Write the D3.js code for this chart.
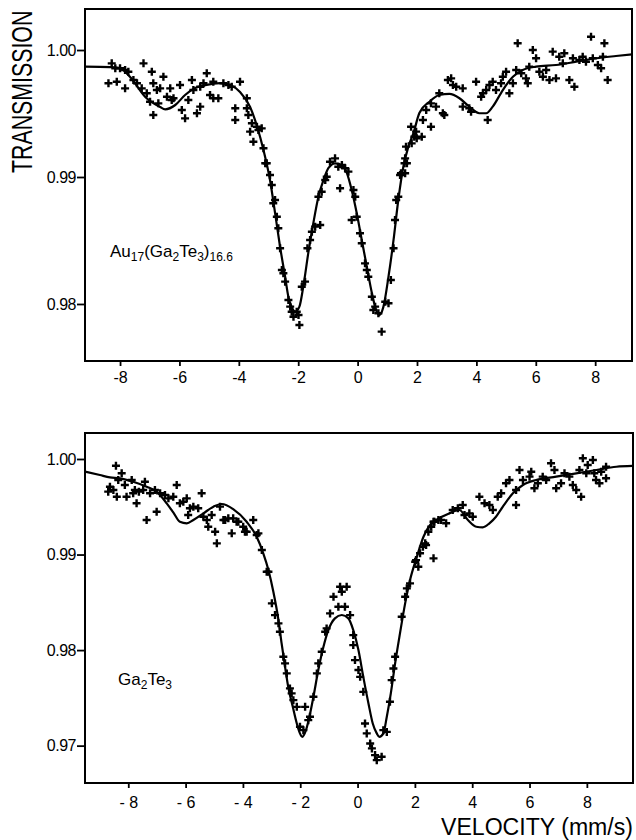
<!DOCTYPE html>
<html>
<head>
<meta charset="utf-8">
<script src="https://cdn.jsdelivr.net/npm/d3@7"></script>
<style>
  body { margin: 0; background: #fff; }
  svg text { font-family: "Liberation Sans", Arial, sans-serif; fill: #000; }
</style>
</head>
<body>
<svg id="canvas"></svg>
<script>
// velocity ticks
let velocityTicks = [-8, -6, -4, -2, 0, 2, 4, 6, 8];
let topTransTicks = [0.98, 0.99, 1.00];
let bottomTransTicks = [0.97, 0.98, 0.99, 1.00];

// Au17(Ga2Te3)16.6 : fitted curve [velocity, transmission]
let topFit = [
  [-9.18, 0.99869], [-8.33, 0.99866], [-8.00, 0.99858], [-7.66, 0.99787], [-7.15, 0.99630],
  [-6.65, 0.99551], [-6.48, 0.99533], [-6.14, 0.99567], [-5.81, 0.99646], [-5.47, 0.99701],
  [-5.13, 0.99724], [-4.63, 0.99740], [-4.29, 0.99724], [-3.96, 0.99669], [-3.62, 0.99551],
  [-3.38, 0.99394], [-3.17, 0.99213], [-2.95, 0.98976], [-2.78, 0.98717], [-2.61, 0.98449],
  [-2.44, 0.98213], [-2.33, 0.98055], [-2.22, 0.97976], [-2.10, 0.97939], [-1.96, 0.97979],
  [-1.83, 0.98136], [-1.66, 0.98402], [-1.49, 0.98638], [-1.32, 0.98845], [-1.15, 0.98976],
  [-0.98, 0.99071], [-0.76, 0.99108], [-0.53, 0.99094], [-0.36, 0.99031], [-0.20, 0.98898],
  [-0.03, 0.98717], [0.14, 0.98504], [0.31, 0.98294], [0.48, 0.98087], [0.62, 0.97953],
  [0.73, 0.97913], [0.87, 0.97979], [1.04, 0.98215], [1.21, 0.98504], [1.37, 0.98819],
  [1.54, 0.99081], [1.71, 0.99239], [1.88, 0.99346], [2.08, 0.99504], [2.42, 0.99593],
  [2.75, 0.99646], [3.09, 0.99654], [3.43, 0.99620], [3.76, 0.99554], [4.10, 0.99502],
  [4.33, 0.99502], [4.55, 0.99554], [4.89, 0.99685], [5.23, 0.99790], [5.56, 0.99843],
  [6.01, 0.99869], [6.68, 0.99882], [7.36, 0.99908], [8.03, 0.99935], [8.70, 0.99953],
  [9.24, 0.99966]
];

// Au17(Ga2Te3)16.6 : measured points
let topPoints = [
  [-8.28, 0.99895], [-8.39, 0.99738], [-8.11, 0.99750], [-8.16, 0.99856], [-8.00, 0.99856],
  [-7.83, 0.99843], [-7.72, 0.99829], [-7.83, 0.99698], [-7.55, 0.99764], [-7.43, 0.99738],
  [-7.21, 0.99895], [-7.27, 0.99698], [-7.10, 0.99659], [-6.88, 0.99738], [-6.93, 0.99829],
  [-6.54, 0.99790], [-6.65, 0.99698], [-6.76, 0.99685], [-6.99, 0.99593], [-6.88, 0.99488],
  [-6.71, 0.99580], [-6.42, 0.99632], [-6.31, 0.99698], [-6.20, 0.99620], [-6.26, 0.99606],
  [-5.98, 0.99724], [-5.92, 0.99528], [-5.81, 0.99462], [-5.70, 0.99606], [-5.58, 0.99764],
  [-5.41, 0.99502], [-5.30, 0.99554], [-5.53, 0.99685], [-5.30, 0.99711], [-5.08, 0.99817],
  [-5.19, 0.99738], [-4.97, 0.99646], [-4.86, 0.99620], [-4.69, 0.99620], [-4.86, 0.99750],
  [-4.52, 0.99738], [-4.35, 0.99724], [-4.24, 0.99711], [-3.96, 0.99750], [-4.12, 0.99541],
  [-4.12, 0.99449], [-3.73, 0.99620], [-3.73, 0.99541], [-3.68, 0.99488], [-3.56, 0.99423],
  [-3.39, 0.99396], [-3.23, 0.99383], [-3.62, 0.99357], [-3.51, 0.99278], [-3.11, 0.99108],
  [-2.95, 0.99016], [-2.89, 0.98937], [-2.78, 0.98819], [-2.72, 0.98687], [-3.34, 0.99370],
  [-3.17, 0.99226], [-3.06, 0.99108], [-2.84, 0.98793], [-2.67, 0.98596], [-2.61, 0.98439],
  [-2.55, 0.98268], [-2.50, 0.98242], [-2.44, 0.98176], [-2.33, 0.98031], [-2.27, 0.97979],
  [-2.22, 0.97939], [-2.16, 0.97900], [-2.05, 0.97939], [-1.99, 0.97913], [-1.96, 0.97835],
  [-1.88, 0.98136], [-1.77, 0.98176], [-1.69, 0.98439], [-1.60, 0.98504], [-1.54, 0.98569],
  [-1.43, 0.98609], [-1.26, 0.98622], [-1.32, 0.98845], [-1.21, 0.98884], [-1.09, 0.98976],
  [-1.04, 0.99002], [-0.93, 0.99120], [-0.76, 0.99147], [-0.65, 0.99081], [-0.53, 0.99094],
  [-0.42, 0.99069], [-0.31, 0.99042], [-0.59, 0.98911], [-0.14, 0.98898], [-0.08, 0.98845],
  [-0.20, 0.98661], [-0.03, 0.98687], [0.08, 0.98557], [0.14, 0.98478], [0.25, 0.98320],
  [0.31, 0.98268], [0.36, 0.98215], [0.48, 0.98057], [0.59, 0.97979], [0.53, 0.97953],
  [0.70, 0.97927], [0.81, 0.97782], [0.93, 0.98018], [1.04, 0.98006], [1.12, 0.98189],
  [1.21, 0.98439], [1.26, 0.98661], [1.37, 0.98845], [1.43, 0.99016], [1.60, 0.99029],
  [1.66, 0.99108], [1.60, 0.99147], [1.82, 0.99265], [1.99, 0.99305], [2.16, 0.99317],
  [1.30, 0.98819], [1.46, 0.99029], [1.58, 0.99108], [1.63, 0.99239], [1.80, 0.99396],
  [1.97, 0.99357], [1.91, 0.99317], [2.20, 0.99449], [2.47, 0.99396], [2.31, 0.99528],
  [2.47, 0.99580], [2.64, 0.99554], [2.87, 0.99502], [2.92, 0.99488], [2.75, 0.99659],
  [3.04, 0.99764], [3.15, 0.99777], [3.21, 0.99724], [3.32, 0.99711], [3.54, 0.99698],
  [3.54, 0.99554], [3.76, 0.99541], [3.82, 0.99514], [3.99, 0.99750], [4.16, 0.99632],
  [4.22, 0.99659], [4.38, 0.99449], [4.33, 0.99685], [4.44, 0.99724], [4.55, 0.99750],
  [4.66, 0.99685], [4.83, 0.99738], [4.89, 0.99790], [5.00, 0.99829], [5.11, 0.99659],
  [5.23, 0.99738], [5.34, 0.99843], [5.39, 1.00053], [5.51, 0.99817], [5.67, 0.99777],
  [5.73, 0.99738], [5.78, 0.99869], [5.90, 1.00000], [6.01, 0.99935], [6.12, 0.99829],
  [6.24, 0.99790], [6.35, 0.99843], [6.46, 0.99764], [6.57, 0.99987], [6.68, 0.99777],
  [6.79, 0.99947], [6.96, 0.99974], [6.91, 0.99895], [7.13, 0.99764], [7.30, 0.99711],
  [7.25, 0.99935], [7.47, 0.99921], [7.58, 0.99947], [7.69, 0.99908], [7.86, 1.00105],
  [7.92, 0.99935], [8.09, 0.99882], [8.20, 0.99856], [8.26, 0.99947], [8.31, 1.00053],
  [8.42, 0.99764]
];

// Ga2Te3 : fitted curve
let bottomFit = [
  [-9.49, 0.99867], [-8.99, 0.99832], [-8.64, 0.99808], [-8.29, 0.99798], [-7.83, 0.99762],
  [-7.36, 0.99710], [-7.01, 0.99658], [-6.66, 0.99536], [-6.43, 0.99441], [-6.20, 0.99343],
  [-5.96, 0.99327], [-5.73, 0.99361], [-5.38, 0.99431], [-5.03, 0.99501], [-4.74, 0.99529],
  [-4.34, 0.99476], [-3.87, 0.99343], [-3.52, 0.99186], [-3.29, 0.99013], [-3.11, 0.98838],
  [-2.94, 0.98613], [-2.76, 0.98314], [-2.65, 0.98070], [-2.53, 0.97825], [-2.42, 0.97616],
  [-2.26, 0.97407], [-2.12, 0.97232], [-2.01, 0.97128], [-1.93, 0.97092], [-1.80, 0.97162],
  [-1.68, 0.97302], [-1.54, 0.97511], [-1.37, 0.97791], [-1.19, 0.98035], [-1.02, 0.98209],
  [-0.79, 0.98332], [-0.55, 0.98367], [-0.32, 0.98332], [-0.15, 0.98209], [0.03, 0.98000],
  [0.20, 0.97720], [0.38, 0.97442], [0.53, 0.97232], [0.67, 0.97128], [0.76, 0.97092],
  [0.90, 0.97128], [1.02, 0.97302], [1.16, 0.97547], [1.31, 0.97861], [1.48, 0.98175],
  [1.66, 0.98489], [1.83, 0.98733], [2.07, 0.98977], [2.30, 0.99186], [2.53, 0.99309],
  [2.74, 0.99361], [3.20, 0.99431], [3.55, 0.99466], [3.85, 0.99361], [4.14, 0.99291],
  [4.37, 0.99285], [4.60, 0.99327], [4.83, 0.99396], [5.07, 0.99501], [5.42, 0.99641],
  [5.77, 0.99728], [6.23, 0.99780], [6.93, 0.99815], [7.63, 0.99850], [8.33, 0.99885],
  [9.03, 0.99919], [9.59, 0.99927]
];

// Ga2Te3 : measured points
let bottomPoints = [
  [-8.43, 0.99930], [-8.64, 0.99710], [-8.70, 0.99658], [-8.52, 0.99675], [-8.35, 0.99780],
  [-8.23, 0.99850], [-8.12, 0.99728], [-8.40, 0.99605], [-8.06, 0.99605], [-7.88, 0.99780],
  [-7.83, 0.99641], [-7.71, 0.99536], [-7.77, 0.99675], [-7.63, 0.99658], [-7.42, 0.99762],
  [-7.48, 0.99675], [-7.36, 0.99361], [-7.24, 0.99641], [-7.07, 0.99675], [-7.01, 0.99448],
  [-6.89, 0.99641], [-6.72, 0.99623], [-6.60, 0.99588], [-6.43, 0.99605], [-6.31, 0.99728],
  [-6.20, 0.99536], [-6.08, 0.99553], [-5.96, 0.99588], [-5.85, 0.99484], [-5.91, 0.99414],
  [-5.73, 0.99501], [-5.56, 0.99484], [-5.44, 0.99641], [-5.38, 0.99396], [-5.26, 0.99361],
  [-5.21, 0.99291], [-4.97, 0.99239], [-4.91, 0.99117], [-5.09, 0.99414], [-4.80, 0.99501],
  [-4.68, 0.99361], [-4.51, 0.99379], [-4.39, 0.99222], [-4.34, 0.99379], [-4.16, 0.99343],
  [-3.99, 0.99291], [-3.87, 0.99239], [-3.64, 0.99361], [-3.52, 0.99204], [-3.34, 0.99047],
  [-3.17, 0.98820], [-4.62, 0.99361], [-4.22, 0.99343], [-3.93, 0.99239], [-3.46, 0.99222],
  [-3.11, 0.98820], [-2.99, 0.98489], [-2.88, 0.98366], [-2.76, 0.98280], [-2.71, 0.98192],
  [-2.59, 0.97930], [-2.53, 0.97861], [-2.47, 0.97756], [-2.36, 0.97599], [-2.30, 0.97547],
  [-2.24, 0.97476], [-2.12, 0.97406], [-1.83, 0.97406], [-2.01, 0.97197], [-1.89, 0.97162],
  [-1.72, 0.97267], [-1.66, 0.97302], [-1.54, 0.97511], [-1.42, 0.97756], [-1.37, 0.97861],
  [-1.25, 0.97982], [-1.13, 0.98192], [-1.08, 0.98227], [-0.96, 0.98384], [-0.84, 0.98558],
  [-0.67, 0.98453], [-0.44, 0.98453], [-0.55, 0.98610], [-0.61, 0.98663], [-0.38, 0.98663],
  [-0.26, 0.98366], [-0.15, 0.98157], [-0.15, 0.98052], [-0.09, 0.97895], [0.03, 0.97791],
  [0.09, 0.97720], [0.20, 0.97563], [0.26, 0.97232], [0.32, 0.97128], [0.44, 0.97023],
  [0.50, 0.96971], [0.61, 0.96901], [0.67, 0.96848], [0.84, 0.96883], [0.90, 0.97162],
  [1.02, 0.97144], [1.13, 0.97459], [1.19, 0.97686], [1.25, 0.97808], [1.31, 0.97930],
  [1.54, 0.98349], [1.66, 0.98558], [1.72, 0.98646], [1.83, 0.98698], [2.01, 0.98925],
  [2.12, 0.98872], [2.18, 0.99013], [2.36, 0.99117], [2.65, 0.98960], [2.47, 0.99239],
  [2.65, 0.99343], [2.82, 0.99361], [2.04, 0.98942], [2.28, 0.99082], [2.39, 0.99099],
  [2.57, 0.99291], [2.68, 0.99343], [2.91, 0.99361], [3.09, 0.99327], [3.32, 0.99466],
  [3.50, 0.99484], [3.67, 0.99518], [3.73, 0.99414], [3.90, 0.99431], [4.02, 0.99396],
  [4.25, 0.99605], [4.43, 0.99536], [4.60, 0.99518], [4.72, 0.99466], [4.89, 0.99605],
  [5.01, 0.99641], [5.18, 0.99746], [5.30, 0.99780], [5.53, 0.99518], [5.53, 0.99675],
  [5.65, 0.99885], [5.77, 0.99780], [6.00, 0.99815], [6.06, 0.99867], [6.17, 0.99693],
  [6.29, 0.99746], [6.46, 0.99815], [6.58, 0.99780], [6.75, 0.99955], [6.87, 0.99885],
  [6.93, 0.99693], [7.10, 0.99746], [7.22, 0.99850], [7.39, 0.99815], [7.51, 0.99728],
  [7.63, 0.99675], [7.74, 0.99885], [7.80, 0.99605], [7.86, 1.00007], [7.98, 0.99850],
  [8.03, 0.99937], [8.21, 0.99990], [8.26, 0.99850], [8.32, 0.99780], [8.44, 0.99746],
  [8.50, 0.99867], [8.67, 0.99919], [8.67, 0.99798]
];

let width = 636;
let height = 840;

let canvas = d3.select('#canvas');
canvas.attr('width', width).attr('height', height);

let plusPath = 'M-4,0H4M0,-4V4';

let drawPanel = (opts) => {
  let xScale = d3.scaleLinear().domain(opts.xDomain).range([opts.left, opts.right]);
  let yScale = d3.scaleLinear().domain(opts.yDomain).range([opts.bottom, opts.top]);

  let g = canvas.append('g');

  // frame
  g.append('rect')
    .attr('x', opts.left)
    .attr('y', opts.top)
    .attr('width', opts.right - opts.left)
    .attr('height', opts.bottom - opts.top)
    .attr('fill', 'none')
    .attr('stroke', '#000')
    .attr('stroke-width', 2);

  // x axis
  let xAxis = d3.axisBottom(xScale)
    .tickValues(velocityTicks)
    .tickSize(5)
    .tickPadding(opts.xPad)
    .tickFormat(opts.xFormat);
  let xg = g.append('g')
    .attr('transform', `translate(0, ${opts.bottom})`)
    .call(xAxis);
  xg.select('.domain').remove();
  xg.selectAll('line').attr('stroke-width', 1.8);
  xg.selectAll('text').style('font-size', '16px').attr('font-family', null);

  // y axis
  let yAxis = d3.axisLeft(yScale)
    .tickValues(opts.yTicks)
    .tickSize(8)
    .tickPadding(1)
    .tickFormat(d3.format('.2f'));
  let yg = g.append('g')
    .attr('transform', `translate(${opts.left}, 0)`)
    .call(yAxis);
  yg.select('.domain').remove();
  yg.selectAll('line').attr('stroke-width', 1.8);
  yg.selectAll('text').style('font-size', '16px').attr('font-family', null).style('letter-spacing', '-0.5px');

  // fitted curve
  let line = d3.line()
    .x(d => xScale(d[0]))
    .y(d => yScale(d[1]))
    .curve(d3.curveMonotoneX);

  g.append('path')
    .datum(opts.fit)
    .attr('d', line)
    .attr('fill', 'none')
    .attr('stroke', '#000')
    .attr('stroke-width', 2.2);

  // data points
  g.selectAll('.pt')
    .data(opts.points)
    .enter()
    .append('path')
    .attr('class', 'pt')
    .attr('d', plusPath)
    .attr('transform', d => `translate(${xScale(d[0])}, ${yScale(d[1])})`)
    .attr('stroke', '#000')
    .attr('stroke-width', 2.4)
    .attr('fill', 'none');

  return g;
};

// Top panel
let topPanel = drawPanel({
  left: 85, right: 632, top: 9, bottom: 361,
  xDomain: [-9.18, 9.24],
  yDomain: [0.97551, 1.00323],
  yTicks: topTransTicks,
  xPad: 6,
  xFormat: d => (d < 0 ? '-' + Math.abs(d) : String(d)),
  fit: topFit,
  points: topPoints
});

// Bottom panel
let bottomPanel = drawPanel({
  left: 85, right: 633, top: 433, bottom: 783,
  xDomain: [-9.51, 9.61],
  yDomain: [0.96609, 1.00272],
  yTicks: bottomTransTicks,
  xPad: 9,
  xFormat: d => (d < 0 ? '- ' + Math.abs(d) : String(d)),
  fit: bottomFit,
  points: bottomPoints
});

// sample labels
let topLabel = canvas.append('text')
  .attr('x', 110)
  .attr('y', 257)
  .style('font-size', '17px');
topLabel.append('tspan').text('Au');
topLabel.append('tspan').attr('dy', 4).style('font-size', '12px').text('17');
topLabel.append('tspan').attr('dy', -4).text('(Ga');
topLabel.append('tspan').attr('dy', 4).style('font-size', '12px').text('2');
topLabel.append('tspan').attr('dy', -4).text('Te');
topLabel.append('tspan').attr('dy', 4).style('font-size', '12px').text('3');
topLabel.append('tspan').attr('dy', -4).text(')');
topLabel.append('tspan').attr('dy', 4).style('font-size', '12px').text('16.6');

let bottomLabel = canvas.append('text')
  .attr('x', 118)
  .attr('y', 685)
  .style('font-size', '17px');
bottomLabel.append('tspan').text('Ga');
bottomLabel.append('tspan').attr('dy', 4).style('font-size', '12px').text('2');
bottomLabel.append('tspan').attr('dy', -4).text('Te');
bottomLabel.append('tspan').attr('dy', 4).style('font-size', '12px').text('3');

// axis titles (condensed by scaling instead of textLength)
canvas.append('text')
  .attr('transform', 'translate(32, 173) rotate(-90) scale(0.97, 1.3)')
  .style('font-size', '22px')
  .text('TRANSMISSION');

canvas.append('text')
  .attr('x', 441)
  .attr('y', 835)
  .attr('textLength', 192)
  .attr('lengthAdjust', 'spacingAndGlyphs')
  .style('font-size', '23px')
  .text('VELOCITY (mm/s)');
</script>
</body>
</html>
